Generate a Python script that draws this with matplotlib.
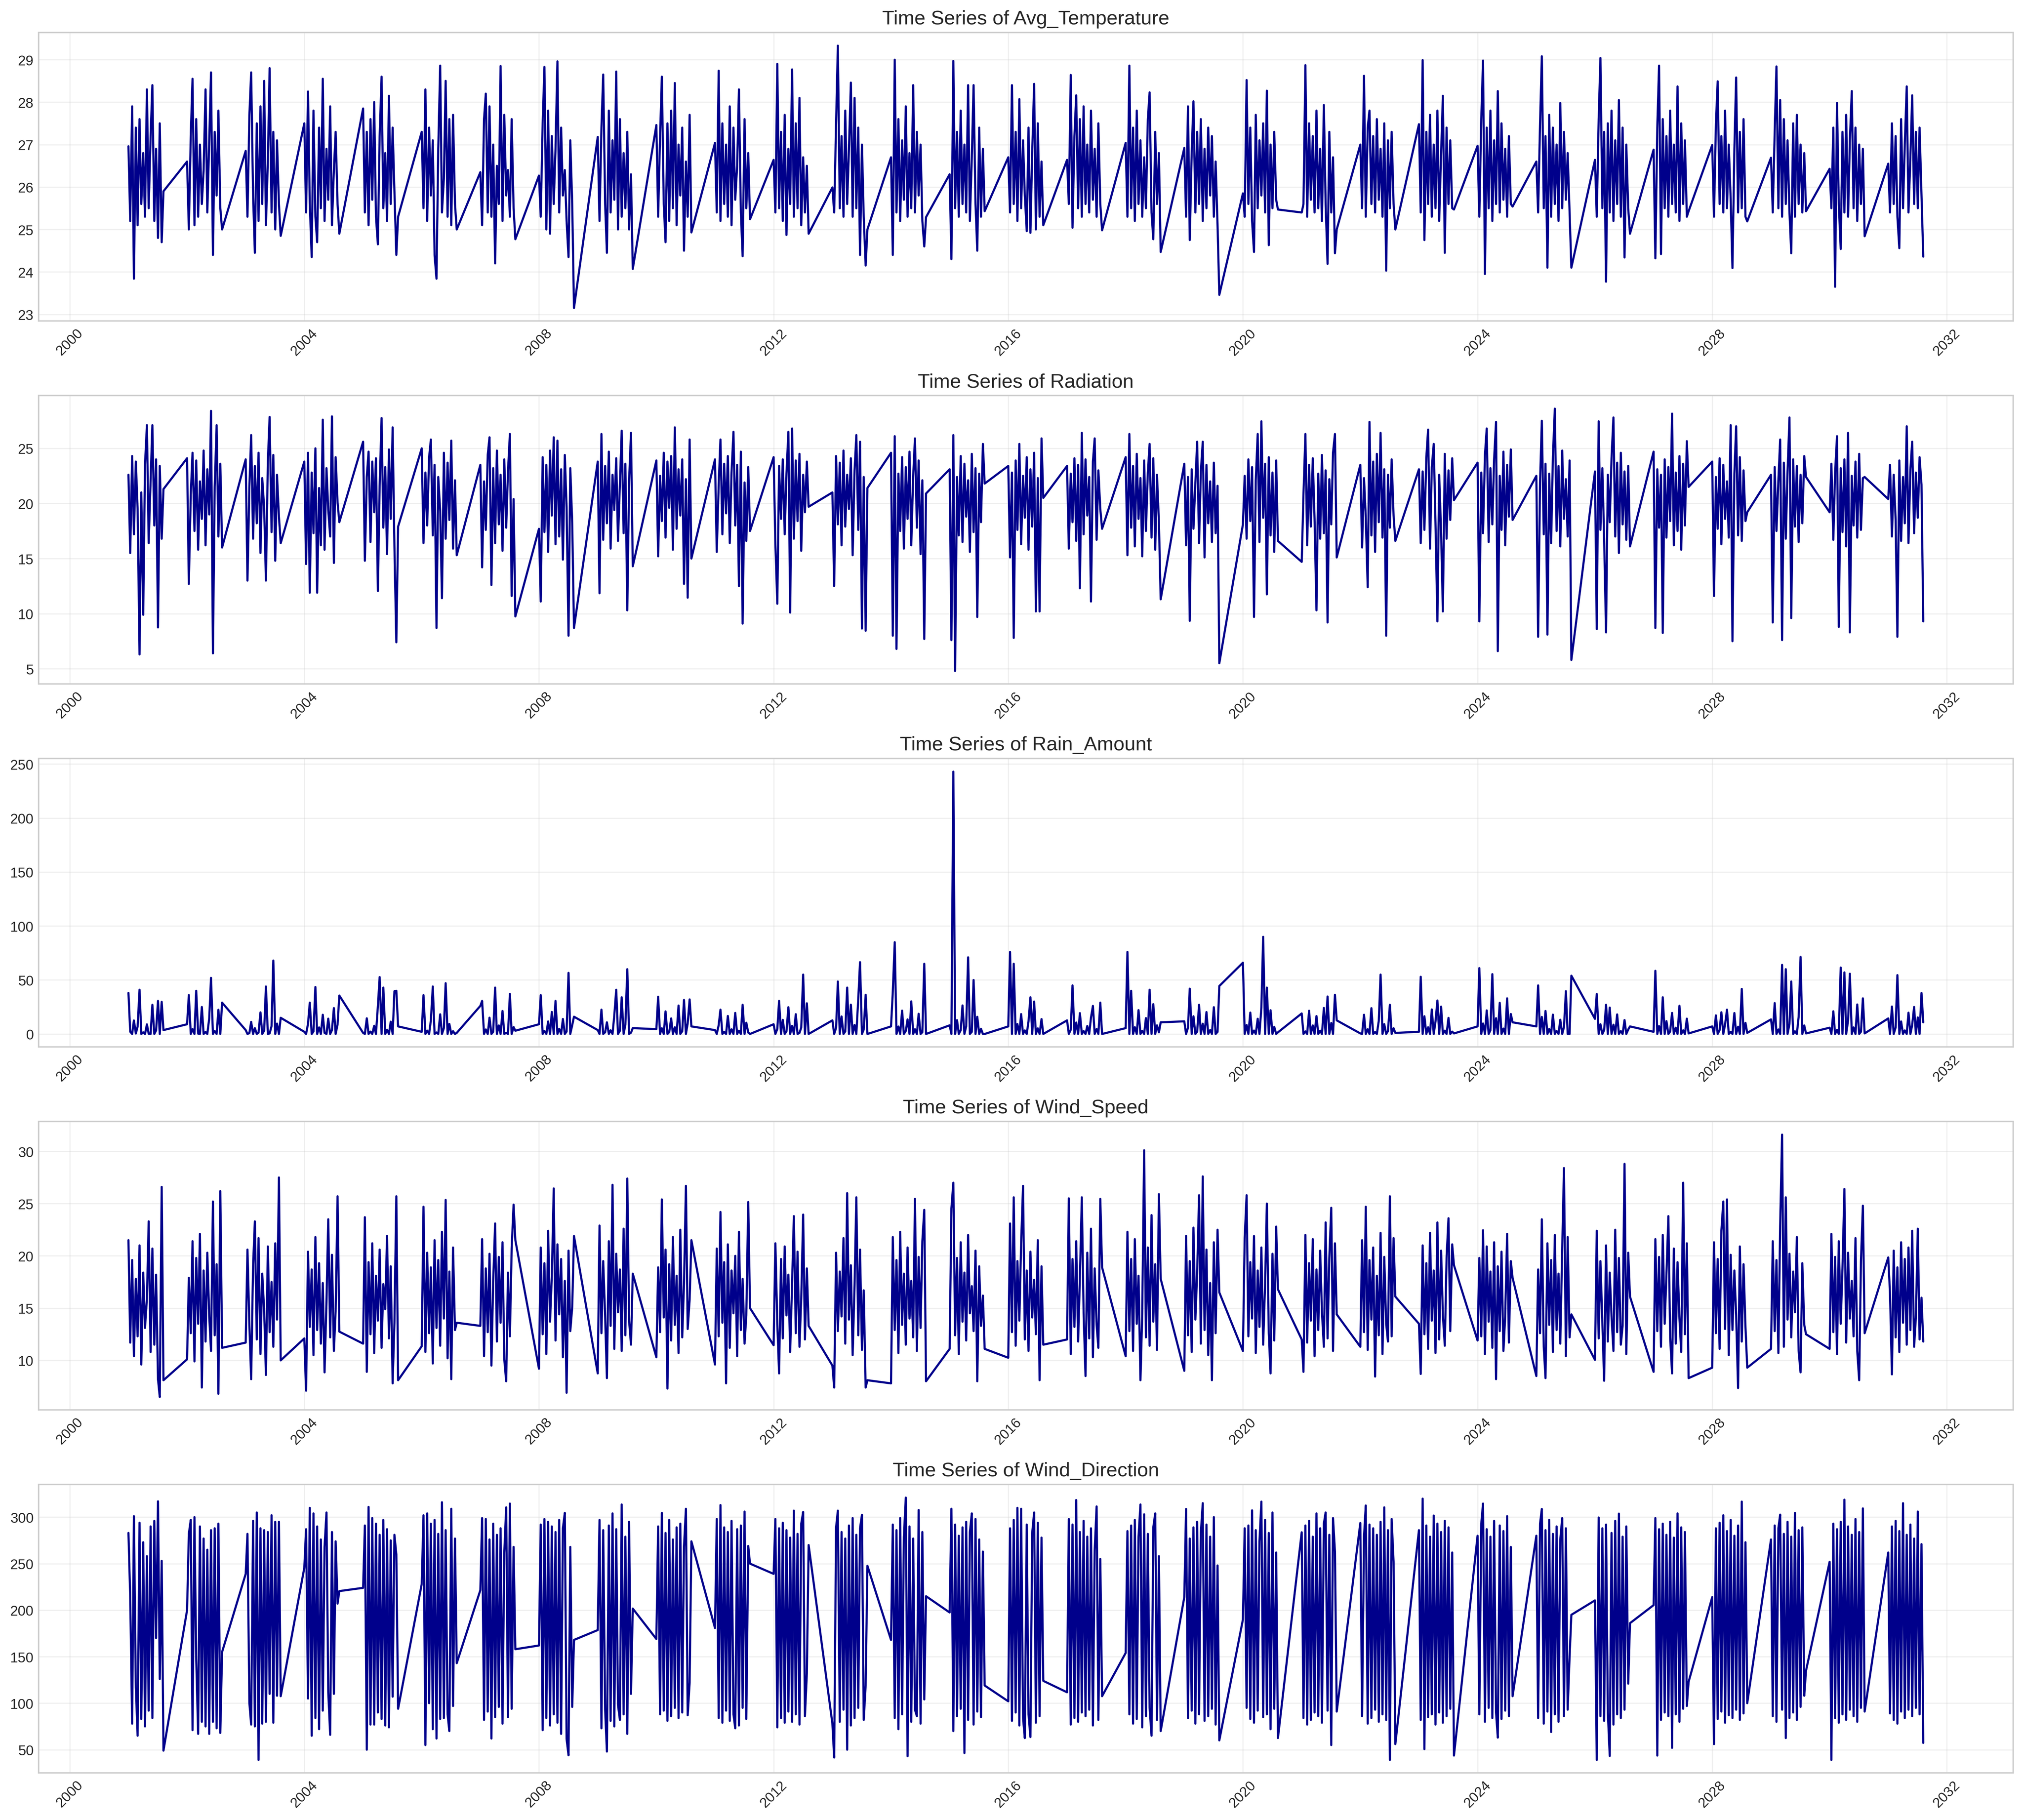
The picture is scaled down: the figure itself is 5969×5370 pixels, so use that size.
"""
Series temporales de variables meteorologicas (temporada ene-ago, 2001-2031)
Genera out.png con un panel por variable.
"""

import matplotlib
matplotlib.use("Agg")
import pandas as pd
import matplotlib.pyplot as plt

plt.style.use("seaborn-v0_8-whitegrid")

# ─── Calendario de muestreo ───────────────────────────────────────────────────
YEARS = list(range(2001, 2032))
SAMPLE_DAYS = [0, 11, 23, 34, 46, 57, 69, 80, 92, 103,
               115, 126, 138, 149, 161, 172, 184, 195, 207, 218]

# ─── Datos (20 muestras por temporada) ────────────────────────────────────────
AVG_TEMPERATURE = [
    26.96, 25.2, 27.9, 23.84, 27.4, 25.1, 27.6, 25.6, 26.8, 25.3, 28.3, 25.5, 27.2, 28.4, 25.2, 26.9, 24.8, 27.5, 24.7, 25.9,
    26.6, 25.0, 27.2, 28.55, 25.1, 27.6, 25.3, 27.0, 25.6, 26.4, 28.3, 25.4, 27.1, 28.7, 24.4, 27.3, 25.8, 27.8, 25.5, 25.0,
    26.85, 25.3, 27.7, 28.7, 25.8, 24.45, 27.5, 25.2, 27.9, 25.6, 28.5, 25.1, 26.6, 28.8, 25.4, 27.3, 25.0, 27.1, 25.6, 24.85,
    27.5, 25.4, 28.25, 25.6, 24.35, 27.8, 25.3, 24.7, 27.4, 25.5, 28.55, 25.2, 26.9, 25.7, 27.9, 25.1, 26.4, 27.3, 25.6, 24.9,
    27.85, 25.4, 27.3, 25.1, 27.6, 25.7, 28.0, 25.3, 24.65, 27.2, 28.6, 25.5, 26.8, 25.2, 28.15, 25.6, 27.4, 25.9, 24.4, 25.3,
    27.3, 25.5, 28.3, 25.2, 27.4, 25.8, 27.1, 24.4, 23.84, 26.9, 28.86, 25.4, 26.2, 28.5, 25.3, 27.6, 25.1, 27.7, 25.6, 25.0,
    26.35, 25.1, 27.6, 28.2, 25.4, 27.9, 25.3, 27.0, 24.2, 26.5, 25.6, 28.85, 25.2, 27.7, 25.8, 26.4, 25.3, 27.6, 25.5, 24.77,
    26.27, 25.3, 27.5, 28.83, 25.0, 27.8, 24.9, 27.2, 25.6, 26.9, 28.96, 25.4, 27.4, 25.8, 26.4, 25.2, 24.35, 27.1, 25.6, 23.15,
    27.18, 25.2, 27.4, 28.65, 25.6, 24.45, 27.8, 25.4, 27.1, 25.7, 28.72, 25.0, 27.6, 25.3, 26.8, 25.5, 27.3, 25.0, 26.3, 24.07,
    27.46, 25.3, 27.2, 28.6, 25.6, 24.7, 27.5, 25.2, 27.8, 25.5, 28.45, 25.1, 27.0, 25.8, 27.4, 24.5, 26.6, 25.3, 27.7, 24.93,
    27.04, 25.4, 28.74, 25.2, 27.5, 25.6, 27.0, 25.3, 27.9, 25.1, 27.4, 25.7, 26.5, 28.3, 25.4, 24.37, 27.6, 25.5, 26.8, 25.24,
    26.64, 25.4, 28.9, 25.5, 27.3, 25.2, 27.7, 24.87, 26.9, 25.6, 28.77, 25.3, 27.5, 25.5, 28.1, 25.1, 26.7, 25.4, 26.5, 24.9,
    25.99, 25.4, 27.5, 29.33, 25.5, 27.2, 25.3, 27.8, 25.6, 26.9, 28.46, 25.3, 28.1, 25.5, 27.4, 24.4, 27.0, 25.3, 24.15, 25.0,
    26.7, 24.4, 29.0, 25.4, 27.6, 25.2, 27.1, 25.7, 27.9, 25.3, 26.8, 25.5, 28.4, 25.4, 27.3, 25.8, 27.0, 25.2, 24.6, 25.29,
    26.3, 24.3, 28.97, 25.5, 27.3, 25.3, 27.8, 25.6, 27.0, 25.4, 28.4, 25.2, 26.7, 28.4, 25.6, 24.5, 27.4, 25.3, 26.9, 25.43,
    26.7, 25.4, 28.4, 25.6, 27.3, 25.2, 28.07, 25.5, 27.1, 25.8, 24.96, 27.4, 24.92, 26.8, 28.43, 25.0, 27.5, 25.3, 26.6, 25.1,
    26.64, 25.6, 28.64, 25.04, 27.2, 28.16, 25.5, 27.6, 25.3, 27.9, 25.6, 27.0, 25.4, 27.8, 25.7, 26.9, 25.3, 27.5, 25.6, 24.98,
    27.04, 25.3, 28.86, 25.5, 27.4, 25.2, 27.8, 25.6, 27.1, 25.3, 26.7, 25.5, 27.6, 28.23, 25.4, 24.77, 27.3, 25.6, 26.8, 24.47,
    26.92, 25.3, 27.9, 24.75, 26.8, 28.02, 25.4, 27.3, 25.6, 27.6, 25.2, 26.9, 25.5, 27.4, 25.8, 27.2, 25.3, 26.6, 25.1, 23.46,
    25.85, 25.3, 28.52, 25.6, 27.4, 25.2, 24.47, 27.7, 25.5, 27.1, 25.8, 27.5, 25.4, 28.27, 24.63, 27.0, 25.5, 27.3, 25.7, 25.47,
    25.4, 25.6, 28.87, 25.3, 27.5, 25.7, 27.2, 25.4, 27.8, 25.5, 26.9, 25.2, 27.93, 25.6, 24.19, 27.3, 25.4, 26.7, 24.44, 25.0,
    27.0, 25.5, 28.62, 25.3, 27.4, 27.8, 25.6, 27.2, 25.4, 27.6, 25.7, 26.9, 25.3, 27.5, 24.03, 27.1, 25.5, 27.3, 25.6, 25.0,
    27.48, 25.4, 28.99, 24.75, 27.3, 25.6, 27.7, 25.3, 27.0, 25.5, 27.8, 25.2, 26.8, 28.15, 24.45, 27.4, 25.6, 27.1, 25.5, 25.47,
    26.97, 25.3, 27.6, 28.98, 23.95, 27.4, 25.5, 27.8, 25.2, 27.1, 25.6, 28.26, 25.4, 27.5, 25.7, 26.9, 25.3, 27.2, 25.6, 25.54,
    26.6, 25.4, 27.5, 29.08, 25.5, 27.2, 24.1, 27.7, 25.3, 27.4, 25.6, 27.0, 25.2, 27.98, 25.5, 27.3, 25.7, 26.8, 25.4, 24.1,
    26.64, 25.3, 27.6, 29.04, 25.5, 27.3, 23.77, 27.5, 25.4, 27.8, 25.2, 27.1, 25.6, 28.05, 25.3, 27.4, 24.34, 27.0, 25.5, 24.9,
    26.88, 24.32, 27.4, 28.86, 24.42, 27.6, 25.5, 27.2, 25.3, 27.8, 25.6, 27.0, 25.4, 28.37, 25.2, 27.5, 25.6, 27.1, 25.3, 25.43,
    26.99, 25.3, 27.5, 28.49, 25.6, 27.2, 25.4, 27.8, 25.5, 27.0, 25.7, 24.09, 26.9, 28.58, 25.4, 27.3, 25.5, 27.6, 25.3, 25.19,
    26.69, 25.4, 27.3, 28.84, 25.5, 28.05, 25.3, 27.6, 25.6, 27.1, 25.4, 24.44, 27.5, 25.3, 27.7, 25.6, 27.0, 25.4, 26.8, 25.43,
    26.43, 25.5, 27.4, 23.65, 27.98, 25.6, 24.54, 27.3, 25.4, 27.7, 25.3, 27.1, 28.26, 25.5, 27.4, 25.2, 27.0, 25.6, 26.9, 24.84,
    26.55, 25.4, 27.5, 25.6, 27.2, 25.3, 24.56, 27.6, 25.5, 27.0, 28.37, 25.4, 26.7, 28.16, 25.6, 27.3, 25.5, 27.4, 25.8, 24.36,
]

RADIATION = [
    22.6, 15.5, 24.3, 17.2, 23.8, 19.5, 6.3, 21.0, 9.9, 23.5, 27.1, 16.4, 22.1, 27.1, 18.0, 24.0, 8.75, 23.4, 16.8, 21.3,
    24.1, 12.7, 20.8, 24.6, 17.5, 23.9, 15.8, 22.0, 18.6, 24.8, 16.2, 23.1, 19.0, 28.4, 6.4, 21.5, 27.1, 17.0, 23.6, 16.0,
    24.0, 13.0, 21.5, 26.2, 16.8, 23.4, 18.2, 24.6, 15.5, 22.3, 19.6, 13.0, 23.8, 27.85, 17.4, 24.4, 14.8, 22.6, 18.8, 16.4,
    23.8, 14.5, 24.6, 11.9, 22.8, 17.3, 25.0, 11.9, 21.4, 16.2, 27.6, 15.8, 23.2, 19.4, 17.0, 27.9, 14.6, 24.2, 20.1, 18.3,
    25.6, 14.8, 22.4, 24.7, 16.5, 23.8, 19.2, 24.1, 12.05, 21.6, 27.75, 17.8, 23.3, 15.4, 24.9, 18.6, 26.9, 16.1, 7.4, 17.9,
    25.0, 16.4, 22.8, 18.0, 24.2, 25.8, 17.1, 23.5, 8.7, 22.4, 19.3, 11.4, 24.6, 16.8, 23.7, 18.5, 25.7, 15.9, 22.1, 15.3,
    23.5, 14.2, 22.0, 17.6, 24.4, 26.0, 12.6, 23.2, 16.4, 24.8, 18.1, 22.6, 15.7, 24.0, 17.8, 22.9, 26.3, 11.6, 20.4, 9.75,
    17.7, 11.1, 24.2, 17.4, 23.5, 15.6, 24.8, 18.9, 26.0, 16.3, 25.7, 17.0, 23.1, 14.9, 24.4, 19.6, 8.0, 23.2, 18.2, 8.7,
    23.8, 11.85, 26.3, 16.7, 23.4, 18.2, 24.7, 15.9, 22.6, 19.4, 24.1, 16.6, 21.8, 26.6, 17.3, 23.6, 10.3, 22.0, 26.4, 14.3,
    23.9, 15.2, 22.5, 18.4, 24.6, 16.9, 23.8, 19.6, 24.3, 15.8, 26.9, 17.7, 23.1, 18.9, 24.0, 12.7, 22.2, 11.45, 25.8, 15.0,
    24.0, 15.6, 21.7, 25.8, 17.2, 23.6, 19.1, 24.3, 16.4, 22.8, 26.5, 18.0, 23.5, 12.5, 24.7, 9.1, 21.9, 16.6, 23.3, 17.5,
    24.2, 16.3, 10.9, 23.4, 18.6, 24.0, 17.2, 22.7, 26.5, 10.1, 26.8, 16.8, 23.9, 18.4, 24.5, 15.7, 22.6, 19.2, 23.8, 19.7,
    21.0, 12.5, 24.3, 18.1, 23.7, 16.2, 24.8, 17.9, 22.6, 19.5, 24.1, 15.3, 23.0, 26.2, 17.6, 25.6, 8.65, 22.4, 8.45, 21.4,
    24.6, 8.0, 26.1, 6.8, 22.7, 17.5, 24.2, 15.9, 23.3, 18.6, 24.7, 16.2, 22.5, 25.9, 17.8, 23.9, 15.4, 22.1, 7.7, 20.9,
    23.1, 7.6, 26.2, 4.8, 22.4, 17.1, 24.3, 16.5, 23.6, 18.8, 22.1, 15.6, 24.5, 17.4, 23.2, 9.7, 22.7, 18.3, 25.4, 21.8,
    23.4, 15.1, 22.8, 7.8, 23.9, 17.6, 25.4, 16.3, 22.5, 18.7, 24.2, 15.8, 23.1, 17.9, 24.6, 10.2, 22.3, 10.2, 25.9, 20.5,
    23.4, 15.9, 22.7, 18.3, 24.1, 16.6, 23.5, 12.3, 26.4, 17.2, 24.0, 18.9, 22.4, 11.1, 23.8, 25.9, 16.7, 23.0, 19.5, 17.7,
    24.2, 15.3, 26.3, 17.8, 23.4, 16.1, 24.5, 18.6, 22.3, 15.2, 23.9, 17.5, 22.8, 25.4, 16.9, 24.1, 15.8, 22.6, 18.3, 11.3,
    23.6, 16.2, 22.4, 9.35, 23.1, 17.7, 21.8, 25.6, 16.4, 22.9, 25.6, 15.1, 23.5, 18.2, 22.0, 16.5, 23.7, 17.3, 21.6, 5.5,
    18.1, 22.5, 16.8, 24.0, 18.4, 23.3, 9.7, 22.1, 26.3, 16.5, 27.45, 18.7, 23.6, 11.75, 24.2, 17.1, 22.8, 15.6, 23.9, 16.6,
    14.7, 20.8, 26.3, 16.2, 23.5, 17.9, 24.1, 18.6, 10.3, 22.7, 16.8, 24.4, 17.3, 23.0, 9.2, 22.2, 18.1, 24.6, 26.3, 15.1,
    23.5, 16.0, 22.3, 18.7, 12.4, 27.4, 17.1, 23.8, 15.6, 24.5, 18.3, 26.4, 16.9, 23.1, 8.0, 22.6, 17.8, 24.0, 18.9, 16.6,
    23.1, 16.4, 22.9, 17.6, 24.2, 26.7, 15.9, 23.3, 25.4, 18.2, 9.3, 22.6, 17.4, 10.2, 24.5, 16.8, 23.0, 18.5, 24.1, 20.3,
    23.7, 9.3, 22.8, 17.3, 24.4, 26.8, 16.5, 23.2, 18.1, 24.0, 27.4, 6.6, 22.5, 17.6, 24.7, 16.2, 23.5, 18.8, 24.9, 18.5,
    22.5, 7.9, 21.9, 27.5, 17.2, 23.6, 8.1, 22.7, 16.4, 24.3, 28.6, 17.5, 23.4, 16.1, 24.8, 18.6, 22.2, 17.0, 23.9, 5.8,
    22.9, 8.6, 27.45, 17.6, 23.2, 16.8, 8.3, 22.6, 18.3, 24.1, 27.8, 17.0, 23.7, 15.5, 24.6, 18.1, 22.9, 16.7, 23.4, 16.1,
    24.7, 8.7, 23.1, 17.8, 22.6, 8.25, 24.0, 16.9, 23.3, 18.4, 28.15, 16.2, 22.8, 17.5, 24.3, 15.8, 23.6, 18.0, 25.65, 21.5,
    23.8, 11.6, 22.4, 17.7, 24.1, 16.3, 23.5, 18.6, 22.0, 16.9, 27.1, 7.5, 22.7, 27.0, 17.1, 24.2, 16.6, 23.0, 18.4, 19.2,
    22.6, 9.2, 23.3, 17.5, 22.1, 25.8, 7.6, 23.7, 16.8, 22.9, 27.8, 9.6, 24.0, 17.9, 23.4, 16.5, 22.6, 18.2, 24.3, 22.4,
    19.2, 23.6, 16.7, 22.8, 26.1, 8.8, 23.2, 17.4, 24.0, 16.1, 26.4, 8.3, 22.5, 18.0, 23.8, 16.9, 24.5, 17.6, 22.3, 22.4,
    20.4, 23.5, 17.0, 22.6, 18.5, 7.9, 23.9, 16.6, 22.4, 18.2, 27.0, 16.4, 23.1, 25.6, 17.3, 22.8, 18.7, 24.2, 21.7, 9.3,
]

RAIN_AMOUNT = [
    38.0, 2.1, 0.0, 12.5, 0.4, 6.8, 41.0, 0.0, 1.5, 0.0, 8.9, 0.2, 0.0, 27.0, 0.0, 3.2, 30.6, 0.0, 29.7, 3.6,
    9.0, 36.0, 0.0, 4.5, 0.0, 40.0, 0.3, 0.0, 25.0, 0.0, 1.8, 0.0, 14.6, 52.0, 0.0, 2.7, 0.0, 22.4, 0.0, 29.0,
    3.6, 0.0, 0.8, 11.2, 0.0, 5.4, 0.0, 1.2, 20.0, 0.0, 3.1, 44.0, 0.0, 0.5, 7.3, 68.0, 0.0, 9.6, 0.0, 15.0,
    2.0, 0.0, 9.4, 29.0, 0.0, 2.3, 43.5, 0.0, 6.1, 0.0, 17.8, 1.0, 0.0, 14.2, 0.0, 3.5, 24.0, 0.0, 8.7, 35.6,
    1.0, 0.0, 14.5, 0.0, 2.2, 0.0, 7.6, 0.0, 25.8, 52.7, 0.0, 43.0, 0.0, 3.9, 0.0, 11.4, 0.0, 39.6, 40.0, 7.0,
    2.0, 36.0, 0.0, 3.1, 0.0, 12.7, 44.0, 0.0, 1.4, 0.0, 18.2, 0.0, 5.5, 47.0, 0.0, 9.3, 0.0, 2.6, 0.0, 1.0,
    26.0, 30.6, 0.0, 4.2, 0.0, 15.1, 0.0, 2.0, 43.0, 0.0, 7.9, 0.0, 21.3, 0.0, 1.1, 0.0, 37.0, 0.0, 6.4, 3.0,
    9.0, 36.0, 0.0, 2.8, 0.0, 11.6, 0.0, 20.4, 0.0, 30.6, 0.0, 4.7, 0.0, 13.9, 0.0, 2.2, 56.6, 0.0, 8.1, 16.0,
    3.6, 0.0, 22.5, 0.0, 1.6, 10.8, 0.0, 3.4, 0.0, 17.2, 41.0, 0.0, 2.9, 34.0, 0.0, 8.5, 60.0, 0.0, 1.2, 5.4,
    4.5, 34.5, 0.0, 5.3, 0.0, 20.9, 0.0, 1.7, 14.4, 0.0, 6.2, 0.0, 26.3, 0.0, 2.5, 31.5, 0.0, 9.8, 32.0, 7.0,
    3.6, 0.0, 8.2, 22.5, 0.0, 1.9, 0.0, 16.7, 0.0, 4.3, 0.0, 19.5, 0.0, 3.0, 0.0, 27.0, 0.0, 10.4, 1.3, 0.0,
    9.0, 0.0, 4.6, 30.6, 0.0, 13.1, 0.0, 2.4, 24.8, 0.0, 7.5, 0.0, 18.3, 0.0, 1.0, 5.9, 55.0, 0.0, 28.4, 0.0,
    12.6, 0.0, 5.7, 48.6, 0.0, 16.2, 0.0, 2.3, 43.0, 0.0, 27.1, 0.0, 8.4, 0.0, 32.5, 66.5, 0.0, 4.1, 36.3, 0.0,
    7.0, 39.0, 85.0, 0.0, 6.9, 0.0, 21.6, 0.0, 2.8, 13.5, 0.0, 30.2, 0.0, 4.4, 0.0, 18.7, 0.0, 1.6, 65.0, 0.0,
    8.0, 0.0, 243.0, 0.0, 12.8, 0.0, 3.5, 26.4, 0.0, 7.1, 71.0, 0.0, 2.0, 50.0, 0.0, 15.9, 0.0, 4.8, 0.0, 0.0,
    7.0, 76.0, 0.0, 65.0, 0.0, 9.2, 0.0, 18.4, 0.0, 3.3, 0.0, 11.7, 34.0, 0.0, 30.0, 0.0, 5.2, 0.0, 13.8, 0.0,
    12.6, 0.0, 3.9, 45.0, 0.0, 10.6, 0.0, 19.3, 0.0, 2.7, 0.0, 7.4, 0.0, 15.2, 26.0, 0.0, 4.6, 0.0, 29.0, 0.0,
    5.4, 76.0, 0.0, 40.0, 0.0, 6.3, 0.0, 22.1, 0.0, 2.9, 0.0, 14.7, 0.0, 41.0, 0.0, 27.6, 0.0, 8.0, 1.5, 10.8,
    11.7, 0.0, 5.8, 42.0, 0.0, 16.4, 0.0, 2.1, 27.0, 0.0, 9.5, 0.0, 20.3, 0.0, 3.7, 0.0, 24.8, 0.0, 1.9, 44.4,
    66.0, 0.0, 8.3, 0.0, 19.8, 0.0, 3.2, 0.0, 14.1, 0.0, 24.6, 90.0, 0.0, 43.0, 0.0, 22.0, 0.0, 6.6, 0.0, 1.5,
    19.0, 0.0, 2.4, 0.0, 21.5, 0.0, 7.9, 0.0, 16.6, 0.0, 3.0, 0.0, 24.1, 0.0, 34.7, 0.0, 10.2, 0.0, 36.3, 12.6,
    0.5, 0.0, 17.8, 0.0, 4.4, 0.0, 23.9, 0.0, 1.8, 0.0, 12.3, 55.0, 0.0, 9.1, 0.0, 2.6, 27.0, 0.0, 5.3, 1.0,
    2.0, 53.0, 0.0, 16.4, 0.0, 6.2, 0.0, 22.7, 0.0, 11.5, 31.0, 0.0, 25.3, 0.0, 3.1, 0.0, 14.9, 0.0, 2.2, 0.5,
    7.0, 61.0, 0.0, 9.7, 0.0, 21.8, 0.0, 3.4, 55.4, 0.0, 14.6, 0.0, 28.8, 0.0, 5.0, 0.0, 33.0, 0.0, 18.5, 10.8,
    7.0, 45.0, 0.0, 15.8, 0.0, 21.3, 0.0, 4.6, 0.0, 17.9, 0.0, 2.8, 0.0, 13.2, 0.0, 6.5, 39.6, 0.0, 0.0, 54.0,
    14.0, 37.0, 0.0, 9.0, 0.0, 3.5, 27.0, 0.0, 24.4, 0.0, 8.6, 0.0, 18.1, 0.0, 2.7, 0.0, 12.9, 0.0, 4.1, 7.0,
    2.0, 58.5, 0.0, 7.3, 0.0, 34.0, 0.0, 11.9, 0.0, 2.2, 19.5, 0.0, 5.8, 0.0, 26.1, 0.0, 3.4, 0.0, 14.2, 0.5,
    7.0, 0.0, 17.2, 0.0, 3.6, 20.1, 0.0, 8.8, 22.5, 0.0, 1.9, 0.0, 19.4, 0.0, 6.7, 0.0, 41.7, 0.0, 10.3, 1.0,
    13.5, 0.0, 28.6, 0.0, 4.2, 0.0, 64.0, 0.0, 60.0, 0.0, 9.3, 48.6, 0.0, 2.5, 0.0, 15.7, 71.4, 0.0, 7.9, 0.5,
    5.8, 0.0, 21.0, 0.0, 3.8, 0.0, 61.5, 0.0, 57.0, 0.0, 12.4, 55.8, 0.0, 6.1, 0.0, 27.3, 0.0, 2.0, 33.0, 0.5,
    14.4, 0.0, 25.4, 0.0, 6.0, 54.5, 0.0, 11.6, 0.0, 3.3, 0.0, 19.7, 0.0, 8.2, 25.0, 0.0, 15.3, 0.0, 38.0, 10.8,
]

WIND_SPEED = [
    21.5, 11.7, 19.6, 10.4, 17.8, 12.3, 21.0, 9.6, 18.4, 13.1, 15.9, 23.3, 10.8, 20.7, 11.5, 18.2, 8.2, 6.5, 26.6, 8.1,
    10.1, 17.9, 12.6, 21.4, 9.9, 19.8, 13.5, 22.1, 7.4, 18.6, 11.8, 20.3, 14.2, 10.9, 25.2, 12.4, 19.2, 6.8, 26.2, 11.2,
    11.7, 20.6, 13.4, 8.2, 19.1, 23.3, 12.0, 21.7, 10.6, 18.3, 14.8, 8.6, 20.9, 12.7, 17.5, 11.3, 21.2, 13.9, 27.5, 10.0,
    12.1, 7.1, 20.4, 13.2, 18.7, 10.5, 21.8, 12.9, 19.3, 11.6, 17.4, 8.85, 15.6, 23.5, 12.2, 20.1, 10.9, 14.7, 25.7, 12.75,
    11.6, 23.7, 8.9, 19.4, 12.5, 21.2, 10.7, 18.1, 13.8, 20.6, 11.2, 17.3, 14.9, 21.9, 12.1, 19.0, 7.8, 13.6, 25.7, 8.1,
    11.35, 24.7, 10.8, 20.3, 12.6, 18.9, 9.7, 21.5, 13.1, 19.6, 11.4, 22.3, 14.0, 25.35, 10.2, 18.5, 8.2, 20.8, 12.9, 13.6,
    13.3, 21.6, 10.4, 18.8, 12.7, 20.2, 9.5, 17.6, 23.1, 11.8, 19.9, 13.6, 21.3, 10.1, 8.0, 18.4, 12.3, 20.7, 24.9, 21.5,
    9.2, 20.8, 12.5, 19.3, 10.6, 22.4, 13.7, 18.0, 26.45, 11.9, 21.1, 14.4, 19.7, 10.3, 17.6, 6.9, 20.5, 12.8, 15.1, 21.9,
    8.75, 22.9, 12.6, 19.5, 14.2, 8.3, 21.4, 13.3, 26.8, 11.1, 20.2, 14.6, 18.7, 10.9, 22.6, 12.4, 27.4, 13.8, 11.5, 18.3,
    10.3, 18.9, 12.7, 25.4, 14.1, 20.6, 7.3, 19.2, 11.9, 21.8, 13.4, 18.1, 10.7, 22.5, 12.2, 17.3, 26.7, 13.0, 15.8, 21.5,
    9.6, 20.7, 12.3, 24.2, 13.6, 19.4, 7.8, 21.1, 11.2, 18.6, 14.5, 20.0, 10.4, 22.3, 12.9, 17.8, 11.6, 14.3, 25.15, 15.0,
    11.45, 21.2, 13.5, 8.75, 19.7, 12.1, 20.9, 14.3, 18.2, 10.8, 17.4, 23.8, 12.6, 20.4, 11.3, 15.9, 23.95, 12.0, 18.8, 13.3,
    9.5, 7.4, 20.3, 12.8, 18.5, 14.2, 21.7, 11.6, 26.0, 13.9, 19.1, 10.5, 17.2, 25.6, 12.4, 20.6, 11.0, 16.7, 7.4, 8.1,
    7.8, 21.8, 12.9, 19.6, 10.7, 22.3, 13.4, 18.3, 11.5, 20.8, 14.0, 17.6, 12.2, 25.45, 10.9, 19.9, 13.1, 21.4, 24.4, 8.0,
    11.1, 24.55, 27.0, 12.4, 19.8, 10.6, 21.3, 13.7, 18.4, 11.9, 22.0, 14.5, 17.1, 12.8, 20.5, 8.0, 19.0, 13.3, 16.2, 11.1,
    10.25, 23.1, 12.7, 25.6, 11.4, 19.5, 13.8, 21.2, 26.7, 12.0, 18.6, 10.9, 20.4, 14.1, 17.7, 12.5, 21.5, 8.1, 19.0, 11.5,
    12.0, 25.5, 10.6, 19.7, 13.2, 21.4, 11.8, 17.9, 25.6, 14.6, 8.5, 20.3, 12.1, 22.6, 10.3, 18.8, 13.4, 11.2, 25.45, 18.9,
    10.4, 22.3, 12.8, 19.7, 10.9, 21.6, 13.5, 18.1, 8.1, 14.4, 30.1, 12.2, 20.8, 11.4, 23.9, 13.7, 19.2, 11.0, 25.9, 17.8,
    9.0, 21.9, 12.4, 19.5, 10.8, 22.7, 13.9, 18.3, 25.8, 11.6, 27.6, 12.9, 20.6, 10.5, 17.4, 8.1, 21.3, 12.6, 22.5, 16.5,
    10.9, 21.7, 25.8, 12.3, 19.4, 14.0, 21.9, 10.7, 18.6, 13.2, 20.8, 11.5, 17.3, 25.0, 12.6, 8.75, 20.2, 11.9, 22.8, 16.8,
    12.0, 8.9, 22.0, 11.7, 19.3, 13.8, 21.6, 10.4, 18.7, 12.9, 20.5, 14.6, 11.3, 23.2, 12.1, 19.8, 24.6, 10.9, 21.2, 14.4,
    11.3, 21.5, 12.7, 24.7, 11.0, 19.6, 13.9, 20.8, 8.45, 18.1, 12.4, 22.2, 10.6, 19.9, 13.5, 11.8, 25.7, 12.3, 21.7, 16.1,
    13.5, 8.7, 21.0, 12.5, 19.3, 11.1, 22.2, 13.8, 18.6, 10.7, 23.2, 12.0, 20.5, 14.3, 11.4, 19.8, 23.6, 12.8, 21.1, 19.1,
    11.9, 19.8, 12.3, 22.45, 10.6, 20.9, 13.7, 18.5, 11.2, 21.3, 8.2, 19.0, 12.8, 20.4, 10.9, 14.2, 22.1, 11.7, 19.5, 17.9,
    8.5, 18.7, 12.6, 23.5, 11.3, 8.3, 21.2, 13.4, 19.6, 10.8, 22.0, 12.9, 18.3, 11.6, 20.7, 28.4, 10.4, 21.8, 12.2, 14.4,
    10.05, 22.4, 12.1, 19.5, 13.6, 8.05, 21.0, 11.8, 18.4, 14.2, 10.9, 22.5, 12.7, 19.8, 11.5, 13.3, 28.8, 10.6, 20.3, 16.1,
    8.9, 21.6, 12.8, 19.9, 11.3, 22.0, 13.5, 18.2, 23.8, 12.2, 8.75, 20.7, 11.6, 19.4, 14.0, 10.8, 27.0, 12.5, 21.2, 8.3,
    9.3, 21.3, 12.6, 19.7, 11.1, 22.4, 25.2, 13.0, 25.4, 10.5, 20.1, 12.9, 18.6, 14.3, 7.35, 20.9, 11.8, 19.2, 13.2, 9.3,
    11.1, 21.4, 12.8, 19.6, 10.7, 22.9, 31.6, 11.3, 25.6, 13.9, 20.2, 12.2, 18.5, 14.6, 21.8, 10.9, 8.85, 19.3, 13.4, 12.5,
    11.1, 22.1, 12.7, 19.9, 10.6, 21.4, 13.5, 18.8, 26.4, 11.7, 20.3, 14.0, 17.6, 12.3, 21.7, 10.9, 8.1, 19.5, 24.8, 12.6,
    19.85, 16.4, 8.66, 20.5, 12.2, 18.9, 10.8, 21.3, 13.6, 19.7, 11.5, 20.8, 12.9, 22.4, 11.3, 14.1, 22.6, 12.0, 16.0, 11.8,
]

WIND_DIRECTION = [
    283, 214, 78, 301, 117, 65, 294, 83, 273, 75, 258, 92, 290, 84, 296, 170, 317, 126, 253, 49,
    200, 282, 297, 71, 300, 148, 67, 290, 80, 277, 75, 265, 67, 286, 80, 288, 73, 293, 68, 155,
    239, 282, 100, 77, 296, 75, 305, 39, 288, 78, 286, 80, 284, 110, 302, 79, 295, 108, 295, 107.5,
    245.6, 287, 105, 310, 65, 304, 84, 290, 72, 276, 92, 268, 305, 112, 66, 284, 110, 274, 207, 220.5,
    224, 291, 50, 311, 77, 299, 77, 293, 90, 281, 83, 297, 76, 287, 74, 275, 107, 281, 260, 94,
    228, 302, 55, 304, 100, 293, 72, 297, 62, 282, 83, 316, 84, 286, 88, 70, 309, 97, 277, 143,
    221.5, 299, 82, 298, 91, 276, 62, 293, 85, 281, 96, 288, 78, 262, 310.5, 85, 314.6, 94, 268, 158,
    162, 292, 71, 298, 84, 295, 76, 290, 88, 284, 79, 297, 67, 288, 304.6, 61.5, 44, 268, 96, 168,
    178.6, 297, 73, 286, 93, 48, 291, 81, 304, 75, 287, 98, 82, 313.6, 88, 279, 67, 295, 110, 201.7,
    169, 290, 88, 304.6, 92, 283, 81, 297, 86, 276, 95, 289, 84, 293, 90, 268, 309, 87, 122, 274,
    180.8, 298, 84, 313, 79, 289, 92, 284, 81, 296, 88, 73, 287, 76, 291, 95, 306, 83, 269, 250,
    239, 298, 74, 288, 84, 294, 79, 286, 91, 278, 80, 307, 88, 282, 77, 293, 305.6, 86, 132, 270,
    78, 41.6, 289, 307, 80, 284, 93, 277, 50, 291, 76, 299, 84, 281, 95, 288, 302.5, 82, 119, 247.7,
    168, 292, 84, 286, 72, 299, 88, 279, 321, 43, 290, 80, 277, 93, 86, 307.7, 78, 284, 104, 215,
    197.5, 309, 70, 292, 86, 280, 94, 289, 46.4, 295, 82, 284, 304, 77, 298, 91, 276, 85, 263, 119,
    102, 288, 81, 297, 90, 310, 76, 309, 84, 62.5, 292, 88, 63.6, 283, 305, 79, 294, 86, 278, 124,
    111.7, 298, 77, 292, 84, 318.4, 80, 284, 90, 296, 86, 279, 93, 288, 76, 264, 311.5, 82, 255, 107.5,
    154, 285, 88, 291, 78, 297, 83, 279, 313.6, 74, 303, 86, 282, 95, 65, 289, 304, 82, 258, 70,
    214, 308.8, 84, 277, 92, 289, 78, 295, 88, 283, 315, 81, 292, 86, 279, 94, 300, 77, 248, 60,
    190, 288, 95, 291, 83, 307.3, 79, 286, 92, 274, 316.7, 85, 297, 88, 283, 72, 305, 94, 262, 62.5,
    283.7, 84, 291, 77, 296, 82, 279, 90, 304, 86, 288, 79, 293, 305, 92, 281, 55, 299, 263, 91,
    293.7, 86, 279, 312.5, 78, 292, 84, 288, 93, 281, 80, 295, 88, 310.5, 82, 286, 39, 298, 252, 56,
    286, 82, 319.9, 50.6, 291, 85, 279, 88, 301.7, 77, 293, 90, 284, 79, 296, 86, 289, 94, 262, 43.7,
    280, 88, 293, 314.6, 80, 287, 95, 279, 84, 296, 90, 63, 291, 83, 285, 92, 301, 86, 268, 107.5,
    280, 84, 293, 308.8, 78, 286, 91, 297, 69, 282, 88, 290, 80, 276, 299, 86, 288, 93, 150, 195,
    210.5, 39, 299.6, 86, 288, 81, 292, 90, 43.3, 283, 77, 296, 88, 303.8, 84, 279, 93, 290, 121, 186,
    205.4, 299, 43.7, 287, 82, 293, 90, 281, 86, 295, 52, 278, 88, 304, 80, 289, 94, 284, 97, 123,
    214, 56, 288, 83, 294, 91, 302, 79, 285, 87, 297, 84, 280, 93, 291, 82, 316.7, 89, 273, 100,
    276, 86, 291, 80, 288, 302.7, 93, 282, 62.5, 295, 84, 279, 90, 304.6, 82, 286, 96, 289, 108, 135,
    252, 39, 293, 84, 287, 79, 295, 88, 318.8, 82, 290, 93, 281, 86, 298, 80, 284, 95, 309.4, 91,
    262, 89, 290, 82, 296, 78, 285, 91, 315, 84, 281, 93, 292, 86, 277, 95, 306, 88, 271, 57.3,
]

# ─── Armado del DataFrame ─────────────────────────────────────────────────────
fechas = [pd.Timestamp(year=y, month=1, day=1) + pd.Timedelta(days=d)
          for y in YEARS for d in SAMPLE_DAYS]

df = pd.DataFrame({
    "Avg_Temperature": AVG_TEMPERATURE,
    "Radiation": RADIATION,
    "Rain_Amount": RAIN_AMOUNT,
    "Wind_Speed": WIND_SPEED,
    "Wind_Direction": WIND_DIRECTION,
}, index=pd.DatetimeIndex(fechas))

# ─── Figura ───────────────────────────────────────────────────────────────────
fig, axes = plt.subplots(len(df.columns), 1, figsize=(20, 18))

for ax, col in zip(axes, df.columns):
    ax.plot(df.index, df[col], color="darkblue", linewidth=1.5)
    ax.set_title(f"Time Series of {col}", fontsize=14)
    ax.tick_params(axis="x", rotation=45)
    ax.grid(True, alpha=0.3)

plt.tight_layout()
plt.savefig("out.png", dpi=300, bbox_inches="tight")
plt.close()
